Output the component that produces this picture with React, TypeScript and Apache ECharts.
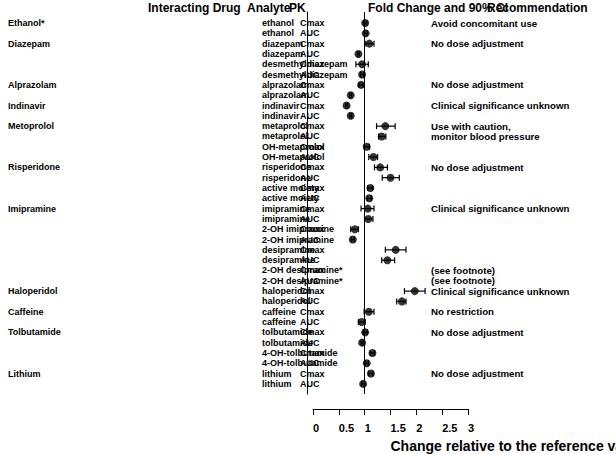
import React, { useEffect, useRef } from "react";
import * as echarts from "echarts";

const FONT = '"Liberation Sans", Arial, Helvetica, sans-serif';

const drugNames = [
  "Ethanol*", "", "Diazepam", "", "", "", "Alprazolam", "", "Indinavir", "",
  "Metoprolol", "", "", "", "Risperidone", "", "", "", "Imipramine", "",
  "", "", "", "", "", "", "Haloperidol", "", "Caffeine", "",
  "Tolbutamide", "", "", "", "Lithium", "",
];

const analytes = [
  "ethanol", "ethanol", "diazepam", "diazepam", "desmethyldiazepam", "desmethyldiazepam",
  "alprazolam", "alprazolam", "indinavir", "indinavir", "metaprolol", "metaprolol",
  "OH-metaprolol", "OH-metaprolol", "risperidone", "risperidone", "active moiety", "active moiety",
  "imipramine", "imipramine", "2-OH imipramine", "2-OH imipramine", "desipramine", "desipramine",
  "2-OH desipramine*", "2-OH desipramine*", "haloperidol", "haloperidol", "caffeine", "caffeine",
  "tolbutamide", "tolbutamide", "4-OH-tolbutamide", "4-OH-tolbutamide", "lithium", "lithium",
];

const pkParams = analytes.map((_, i) => (i % 2 === 0 ? "Cmax" : "AUC"));

const recommendations = [
  "Avoid concomitant use", "", "No dose adjustment", "", "", "", "No dose adjustment", "",
  "Clinical significance unknown", "", "Use with caution,", "monitor blood pressure", "", "",
  "No dose adjustment", "", "", "", "Clinical significance unknown", "", "", "", "", "",
  "(see footnote)", "(see footnote)", "Clinical significance unknown", "", "No restriction", "",
  "No dose adjustment", "", "", "", "No dose adjustment", "",
];

const foldChange = [
  1.01, 1.02, 1.09, 0.88, 0.95, 0.95, 0.93, 0.73, 0.65, 0.73,
  1.40, 1.33, 1.04, 1.17, 1.30, 1.50, 1.11, 1.09, 1.06, 1.07,
  0.81, 0.77, 1.60, 1.44, null, null, 1.97, 1.72, 1.08, 0.94,
  1.01, 0.95, 1.15, 1.04, 1.12, 0.97,
];
const ciLow = [
  0.98, 0.99, 1.01, 0.86, 0.83, 0.92, 0.89, 0.71, 0.63, 0.71,
  1.23, 1.27, 0.99, 1.08, 1.19, 1.34, 1.06, 1.05, 0.93, 1.00,
  0.73, 0.74, 1.40, 1.33, null, null, 1.77, 1.62, 0.99, 0.88,
  0.97, 0.93, 1.11, 1.01, 1.08, 0.94,
];
const ciHigh = [
  1.04, 1.05, 1.18, 0.90, 1.07, 0.98, 0.97, 0.75, 0.67, 0.75,
  1.59, 1.41, 1.09, 1.25, 1.44, 1.67, 1.15, 1.13, 1.18, 1.16,
  0.88, 0.80, 1.80, 1.58, null, null, 2.17, 1.80, 1.18, 1.01,
  1.05, 0.97, 1.19, 1.07, 1.16, 1.00,
];

const tickValues = [0, 0.5, 1, 1.5, 2, 2.5, 3];
const tickLabels = ["0", "0.5", "1", "1.5", "2", "2.5", "3"];

const headers = [
  { text: "Interacting Drug", x: 148 },
  { text: "Analyte", x: 247 },
  { text: "PK", x: 289 },
  { text: "Fold Change and 90% CI", x: 368 },
  { text: "Recommendation", x: 487 },
];

export default function App() {
  const ref = useRef<HTMLDivElement>(null);

  useEffect(() => {
    if (!ref.current) return;
    const chart = echarts.init(ref.current, null, { renderer: "svg" });

    const rowFont = `bold 9px ${FONT}`;
    const recFont = `bold 9.7px ${FONT}`;

    const textData = analytes.map((_, i) => [0, i]);
    const errData: number[][] = [];
    const pointData: number[][] = [];
    foldChange.forEach((v, i) => {
      if (v == null) return;
      pointData.push([v, i]);
      errData.push([ciLow[i] as number, ciHigh[i] as number, i]);
    });

    const option: any = {
      animation: false,
      backgroundColor: "#fff",
      grid: {
        left: 313,
        top: 12,
        width: 155,
        height: 382,
        containLabel: false,
        outerBoundsMode: "none",
      },
      xAxis: {
        type: "value",
        min: 0,
        max: 3,
        interval: 0.5,
        offset: 15,
        axisLine: { show: true, onZero: false, lineStyle: { color: "#000", width: 1 } },
        axisTick: { show: true, length: 6, lineStyle: { color: "#000", width: 1 } },
        axisLabel: {
          show: true,
          showMinLabel: true,
          showMaxLabel: true,
          align: "left",
          margin: 13,
          color: "#000",
          fontSize: 11,
          fontWeight: "bold",
          fontFamily: FONT,
          formatter: (v: number) => {
            const k = tickValues.findIndex((t) => Math.abs(t - v) < 1e-6);
            return k >= 0 ? tickLabels[k] : "";
          },
        },
        splitLine: { show: false },
        name: "Change relative to the reference value",
        nameLocation: "middle",
        nameGap: 30,
        nameTextStyle: {
          align: "left",
          color: "#000",
          fontSize: 14,
          fontWeight: "bold",
          fontFamily: FONT,
        },
      },
      yAxis: {
        type: "value",
        inverse: true,
        min: -1.07,
        max: 35.98,
        offset: 6,
        axisLine: { show: true, onZero: false, lineStyle: { color: "#000", width: 1 } },
        axisTick: { show: false },
        axisLabel: { show: false },
        splitLine: { show: false },
      },
      graphic: headers.map((h) => ({
        type: "text",
        x: h.x,
        y: 8,
        silent: true,
        style: {
          text: h.text,
          fill: "#000",
          font: `bold 12px ${FONT}`,
          textVerticalAlign: "middle",
          verticalAlign: "middle",
        },
      })),
      series: [
        {
          type: "custom",
          name: "labels",
          coordinateSystem: "cartesian2d",
          clip: false,
          silent: true,
          data: textData,
          renderItem: (params: any, api: any) => {
            const i = params.dataIndex;
            const y = api.coord([0, api.value(1)])[1];
            const cols = [
              { text: drugNames[i], x: 8, font: rowFont },
              { text: analytes[i], x: 262, font: rowFont },
              { text: pkParams[i], x: 300, font: rowFont },
              { text: recommendations[i], x: 431, font: recFont },
            ].filter((c) => c.text);
            return {
              type: "group",
              children: cols.map((c) => ({
                type: "text",
                x: c.x,
                y,
                style: {
                  text: c.text,
                  fill: "#000",
                  font: c.font,
                  textVerticalAlign: "middle",
                  verticalAlign: "middle",
                },
              })),
            };
          },
        },
        {
          type: "custom",
          name: "ci",
          coordinateSystem: "cartesian2d",
          clip: false,
          silent: true,
          data: errData,
          encode: { x: [0, 1], y: 2 },
          renderItem: (params: any, api: any) => {
            const a = api.coord([api.value(0), api.value(2)]);
            const b = api.coord([api.value(1), api.value(2)]);
            const st = { stroke: "#000", lineWidth: 1.2 };
            return {
              type: "group",
              children: [
                { type: "line", shape: { x1: a[0], y1: a[1], x2: b[0], y2: b[1] }, style: st },
                { type: "line", shape: { x1: a[0], y1: a[1] - 3, x2: a[0], y2: a[1] + 3 }, style: st },
                { type: "line", shape: { x1: b[0], y1: b[1] - 3, x2: b[0], y2: b[1] + 3 }, style: st },
              ],
            };
          },
        },
        {
          type: "scatter",
          name: "fold change",
          data: pointData,
          symbol: "circle",
          symbolSize: 8,
          itemStyle: { color: "#000" },
          silent: true,
          z: 5,
          markLine: {
            silent: true,
            symbol: ["none", "none"],
            label: { show: false },
            lineStyle: { color: "#000", width: 1, type: "solid" },
            data: [{ xAxis: 1 }],
          },
        },
      ],
    };

    chart.setOption(option);
    return () => chart.dispose();
  }, []);

  return (
    <div
      ref={ref}
      style={{ position: "fixed", left: 0, top: 0, width: 616, height: 454 }}
    />
  );
}
